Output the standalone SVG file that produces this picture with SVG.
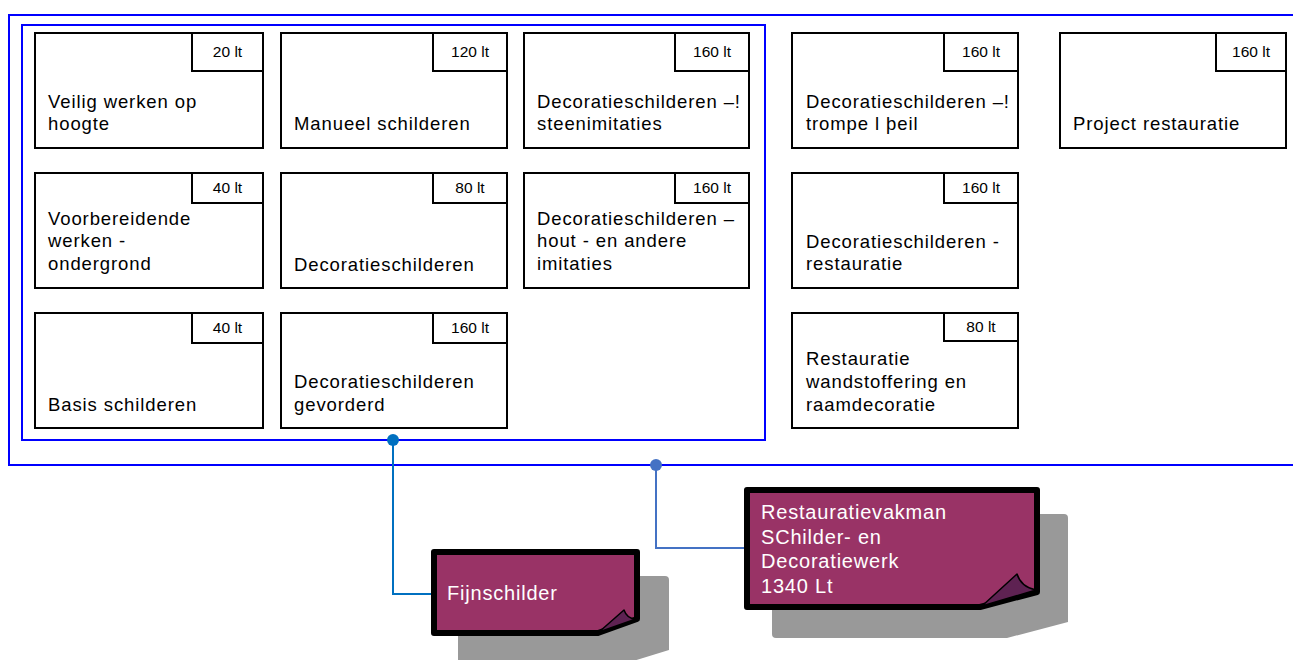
<svg xmlns="http://www.w3.org/2000/svg" width="1293" height="660" viewBox="0 0 1293 660">
<style>
.cont{fill:none;stroke:#0000FF;stroke-width:2}
.box{fill:#FFFFFF;stroke:#000000;stroke-width:2}
.lbl{font-family:"Liberation Sans",Arial,sans-serif;font-size:18.5px;letter-spacing:0.9px;fill:#000000}
.tag{font-family:"Liberation Sans",Arial,sans-serif;font-size:15.5px;fill:#000000;text-anchor:middle}
.note{fill:#993366;stroke:#000000;stroke-width:6;stroke-linejoin:round}
.curl{fill:#5E2252;stroke:#000000;stroke-width:1.5;stroke-linejoin:round}
.shadow{fill:#999999}
.ntxt{font-family:"Liberation Sans",Arial,sans-serif;font-size:20px;letter-spacing:0.8px;fill:#FFFFFF}
.conn{fill:none;stroke-width:2}
</style>
<rect width="1293" height="660" fill="#FFFFFF"/>
<g id="outer-container"><rect class="cont" x="9" y="15" width="1300" height="450"/></g>
<g id="inner-container"><rect class="cont" x="22" y="25" width="743" height="415"/></g>

<g id="n-veilig">
<rect class="box" x="35" y="33" width="228" height="115"/><rect class="box" x="192" y="33" width="71" height="38"/>
<text class="tag" x="227.5" y="57">20 lt</text>
<text class="lbl" x="48" y="108">Veilig werken op</text><text class="lbl" x="48" y="130">hoogte</text>
</g>
<g id="n-manueel">
<rect class="box" x="281" y="33" width="226" height="115"/><rect class="box" x="433" y="33" width="74" height="38"/>
<text class="tag" x="470" y="57">120 lt</text>
<text class="lbl" x="294" y="130">Manueel schilderen</text>
</g>
<g id="n-steen">
<rect class="box" x="524" y="33" width="225" height="115"/><rect class="box" x="675" y="33" width="74" height="38"/>
<text class="tag" x="712" y="57">160 lt</text>
<text class="lbl" x="537" y="108">Decoratieschilderen –!</text><text class="lbl" x="537" y="130">steenimitaties</text>
</g>
<g id="n-trompe">
<rect class="box" x="792" y="33" width="226" height="115"/><rect class="box" x="944" y="33" width="74" height="38"/>
<text class="tag" x="981" y="57">160 lt</text>
<text class="lbl" x="806" y="108">Decoratieschilderen –!</text><text class="lbl" x="806" y="130">trompe l þeil</text>
</g>
<g id="n-project">
<rect class="box" x="1060" y="33" width="226" height="115"/><rect class="box" x="1216" y="33" width="70" height="38"/>
<text class="tag" x="1251" y="57">160 lt</text>
<text class="lbl" x="1073" y="130">Project restauratie</text>
</g>

<g id="n-voorbereidende">
<rect class="box" x="35" y="173" width="228" height="115"/><rect class="box" x="192" y="173" width="71" height="30"/>
<text class="tag" x="227.5" y="193">40 lt</text>
<text class="lbl" x="48" y="225">Voorbereidende</text><text class="lbl" x="48" y="247">werken -</text><text class="lbl" x="48" y="270">ondergrond</text>
</g>
<g id="n-decoratie">
<rect class="box" x="281" y="173" width="226" height="115"/><rect class="box" x="433" y="173" width="74" height="30"/>
<text class="tag" x="470" y="193">80 lt</text>
<text class="lbl" x="294" y="271">Decoratieschilderen</text>
</g>
<g id="n-hout">
<rect class="box" x="524" y="173" width="225" height="115"/><rect class="box" x="675" y="173" width="74" height="30"/>
<text class="tag" x="712" y="193">160 lt</text>
<text class="lbl" x="537" y="225">Decoratieschilderen –</text><text class="lbl" x="537" y="247">hout - en andere</text><text class="lbl" x="537" y="270">imitaties</text>
</g>
<g id="n-restauratie">
<rect class="box" x="792" y="173" width="226" height="115"/><rect class="box" x="944" y="173" width="74" height="30"/>
<text class="tag" x="981" y="193">160 lt</text>
<text class="lbl" x="806" y="248">Decoratieschilderen -</text><text class="lbl" x="806" y="270">restauratie</text>
</g>

<g id="n-basis">
<rect class="box" x="35" y="313" width="228" height="115"/><rect class="box" x="192" y="313" width="71" height="30"/>
<text class="tag" x="227.5" y="333">40 lt</text>
<text class="lbl" x="48" y="411">Basis schilderen</text>
</g>
<g id="n-gevorderd">
<rect class="box" x="281" y="313" width="226" height="115"/><rect class="box" x="433" y="313" width="74" height="30"/>
<text class="tag" x="470" y="333">160 lt</text>
<text class="lbl" x="294" y="388">Decoratieschilderen</text><text class="lbl" x="294" y="411">gevorderd</text>
</g>
<g id="n-wandstoffering">
<rect class="box" x="792" y="313" width="226" height="115"/><rect class="box" x="944" y="313" width="74" height="28"/>
<text class="tag" x="981" y="332">80 lt</text>
<text class="lbl" x="806" y="365">Restauratie</text><text class="lbl" x="806" y="388">wandstoffering en</text><text class="lbl" x="806" y="411">raamdecoratie</text>
</g>

<g id="connectors">
<path class="conn" stroke="#0070C0" d="M393,440 V594 H434"/>
<circle cx="393" cy="440" r="6" fill="#0070C0"/>
<path class="conn" stroke="#4472C4" d="M656,465 V548 H747"/>
<circle cx="656" cy="465" r="6" fill="#4472C4"/>
</g>

<g id="note-fijnschilder">
<path class="shadow" d="M462,576 H665 Q669,576 669,580 V650 L630,662 H458 V580 Q458,576 462,576 Z"/>
<path class="note" d="M434,552 H637 V619 L598,633 H434 Z"/>
<path class="curl" d="M599,632 L624,610 Q627,619 636,619 Z"/>
<text class="ntxt" x="447" y="600">Fijnschilder</text>
</g>
<g id="note-restauratievakman">
<path class="shadow" d="M776,514 H1064 Q1068,514 1068,518 V622 L1007,638 H776 Q772,638 772,634 V518 Q772,514 776,514 Z"/>
<path class="note" d="M747,490 H1037 V592 L980,607 H747 Z"/>
<path class="curl" d="M982,606 L1017,574 Q1021,587 1036,590 Z"/>
<text class="ntxt" x="761" y="519">Restauratievakman</text>
<text class="ntxt" x="761" y="544">SChilder- en</text>
<text class="ntxt" x="761" y="568">Decoratiewerk</text>
<text class="ntxt" x="761" y="593">1340 Lt</text>
</g>
</svg>
